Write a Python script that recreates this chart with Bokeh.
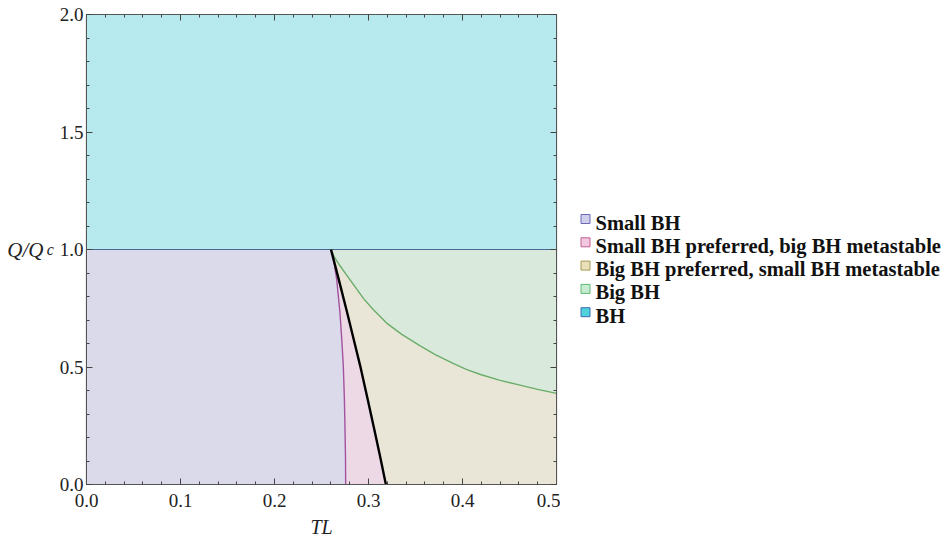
from bokeh.plotting import figure
from bokeh.layouts import row
from bokeh.models import (Range1d, LinearAxis, SingleIntervalTicker, FixedTicker,
                          ColumnDataSource, CustomLabelingPolicy)
from bokeh.core.properties import value
from bokeh.embed import file_html
from bokeh.resources import INLINE

# ---- data ----
# boundary between "Small BH" and "Small BH preferred" (purple curve), top -> bottom
purple_T = [0.2601, 0.2633, 0.2661, 0.2696, 0.2715, 0.2732, 0.2743, 0.2750, 0.2755, 0.2757]
purple_Q = [1.000, 0.946, 0.875, 0.733, 0.620, 0.506, 0.370, 0.237, 0.120, 0.000]
# black coexistence line, top -> bottom
black_T = [0.2601, 0.2682, 0.2772, 0.2841, 0.2911, 0.2987, 0.3060, 0.3123, 0.3185]
black_Q = [1.000, 0.875, 0.733, 0.620, 0.506, 0.370, 0.237, 0.120, 0.000]
# green curve (big BH boundary), left -> right
green_T = [0.2601, 0.2640, 0.2690, 0.2760, 0.2850, 0.2950, 0.3050, 0.3190, 0.3350, 0.3550,
           0.3710, 0.3900, 0.4040, 0.4200, 0.4400, 0.4600, 0.4800, 0.5000]
green_Q = [1.000, 0.965, 0.935, 0.895, 0.845, 0.790, 0.745, 0.688, 0.640, 0.590,
           0.553, 0.515, 0.490, 0.467, 0.443, 0.424, 0.405, 0.388]

T_min, T_max = 0.0, 0.5
Q_min, Q_split, Q_max = 0.0, 1.0, 2.0

x_ticks_labels = ["0.0", "0.1", "0.2", "0.3", "0.4", "0.5"]
y_ticks_labels = ["0.0", "0.5", "1.0", "1.5", "2.0"]

legend_labels = ["Small BH", "Small BH preferred, big BH metastable",
                 "Big BH preferred, small BH metastable", "Big BH", "BH"]
region_fill = ["#dadaeb", "#ecd9e5", "#eae6d7", "#d9eadc", "#b6eaee"]
legend_fill = ["#cfcfec", "#f2c8de", "#e9e0bb", "#c8ecd2", "#4fd2da"]
legend_line = ["#6a6ab8", "#c0608f", "#a89a55", "#5fb874", "#3c6cb4"]

font = "Liberation Serif"
BORDER_TOP, BORDER_BOTTOM = 14, 56

p = figure(width=560, height=540, output_backend="svg", toolbar_location=None,
           x_range=Range1d(T_min, T_max), y_range=Range1d(Q_min, Q_max),
           min_border_left=86, min_border_right=3, min_border_top=BORDER_TOP,
           min_border_bottom=BORDER_BOTTOM,
           x_axis_location=None, y_axis_location=None)
p.grid.visible = False
p.outline_line_color = "#555555"
p.outline_line_width = 1.2
p.background_fill_color = "white"

# ---- regions ----
p.patch([T_min, T_max, T_max, T_min], [Q_split, Q_split, Q_max, Q_max],
        fill_color=region_fill[4], line_color=None)
p.patch([T_min, T_min] + purple_T, [Q_min, Q_split] + purple_Q,
        fill_color=region_fill[0], line_color=None)
p.patch(purple_T + black_T[::-1], purple_Q + black_Q[::-1],
        fill_color=region_fill[1], line_color=None)
p.patch(black_T[::-1] + green_T + [T_max], black_Q[::-1] + green_Q + [Q_min],
        fill_color=region_fill[2], line_color=None)
p.patch(green_T + [T_max], green_Q + [Q_split],
        fill_color=region_fill[3], line_color=None)

# ---- boundary lines ----
p.line([T_min, T_max], [Q_split, Q_split], line_color="#4a6890", line_width=1.2)
p.line(purple_T, purple_Q, line_color="#a2529e", line_width=1.4)
p.line(green_T, green_Q, line_color="#6aac6a", line_width=1.4)
p.line(black_T, black_Q, line_color="black", line_width=2.4)

# ---- axes (Mathematica-style frame with inward ticks) ----
hide_all = CustomLabelingPolicy(code="""
    for (const i of indices) indices.unset(i)
    return indices
""")

def make_axis(interval, labels_visible, overrides):
    ax = LinearAxis(ticker=SingleIntervalTicker(interval=interval, num_minor_ticks=5))
    ax.axis_line_color = "#555555"
    ax.major_tick_line_color = "#444444"
    ax.minor_tick_line_color = "#444444"
    ax.major_tick_in = 6
    ax.major_tick_out = 0
    ax.minor_tick_in = 3
    ax.minor_tick_out = 0
    ax.major_label_text_font = font
    ax.major_label_text_color = "#222222"
    if overrides:
        ax.major_label_overrides = overrides
    if labels_visible:
        ax.major_label_text_font_size = "19px"
    else:
        ax.major_label_text_font_size = "1px"
        ax.major_label_policy = hide_all
        ax.major_label_standoff = 0
    return ax

x_over = {i * 0.1: s for i, s in enumerate(x_ticks_labels)}
y_over = {i * 0.5: s for i, s in enumerate(y_ticks_labels)}

xb = make_axis(0.1, True, x_over)
xb.major_label_standoff = 9
xb.axis_label = "TL"
xb.axis_label_text_font = font
xb.axis_label_text_font_style = "italic"
xb.axis_label_text_font_size = "20px"
xb.axis_label_text_color = "#222222"
xb.axis_label_standoff = 6
p.add_layout(xb, "below")

yl = make_axis(0.5, True, y_over)
yl.major_label_standoff = 3
yl.axis_label = "c"
yl.axis_label_orientation = "horizontal"
yl.axis_label_text_font = font
yl.axis_label_text_font_style = "italic"
yl.axis_label_text_font_size = "16px"
yl.axis_label_text_color = "#222222"
yl.axis_label_text_baseline = "top"
yl.axis_label_standoff = 3
p.add_layout(yl, "left")

# outer left axis that only carries the "Q/Q" part of the title
yq = LinearAxis(ticker=FixedTicker(ticks=[]))
yq.axis_line_color = None
yq.major_tick_line_color = None
yq.minor_tick_line_color = None
yq.major_tick_in = 0
yq.major_tick_out = 0
yq.minor_tick_in = 0
yq.minor_tick_out = 0
yq.major_label_standoff = 0
yq.axis_label = "Q/Q"
yq.axis_label_orientation = "horizontal"
yq.axis_label_text_font = font
yq.axis_label_text_font_style = "italic"
yq.axis_label_text_font_size = "21px"
yq.axis_label_text_color = "#222222"
yq.axis_label_text_baseline = "middle"
yq.axis_label_standoff = 0
p.add_layout(yq, "left")

xt = make_axis(0.1, False, None)
p.add_layout(xt, "above")
yr = make_axis(0.5, False, None)
p.add_layout(yr, "right")

# ---- legend panel (separate figure; coordinates = page pixels, y downward) ----
leg_w, leg_h = 383, 540
first_baseline = 222
row_step = 23.3
marker_x = 25
text_x = 35
marker_rise = 3.5
n = len(legend_labels)
base_y = [first_baseline + i * row_step for i in range(n)]
leg_src = ColumnDataSource(dict(
    label=legend_labels,
    fill=legend_fill,
    line=legend_line,
    ty=base_y,
    my=[b - marker_rise for b in base_y],
    mx=[marker_x] * n,
    tx=[text_x] * n,
))

q = figure(width=leg_w, height=leg_h, output_backend="svg", toolbar_location=None,
           x_range=Range1d(0, leg_w), y_range=Range1d(leg_h - BORDER_BOTTOM, BORDER_TOP),
           min_border_left=0, min_border_right=0, min_border_top=BORDER_TOP,
           min_border_bottom=BORDER_BOTTOM, x_axis_location=None, y_axis_location=None)
q.grid.visible = False
q.outline_line_color = None
q.scatter(x="mx", y="my", source=leg_src, marker="square", size=9,
          fill_color="fill", line_color="line", line_width=1)
q.text(x="tx", y="ty", text="label", source=leg_src, text_font=value(font),
       text_font_style="bold", text_font_size="20.5px", text_color="#111111",
       text_baseline="alphabetic", text_align="left")

layout = row(p, q, spacing=0)
open("out.html", "w").write(file_html(layout, INLINE))
